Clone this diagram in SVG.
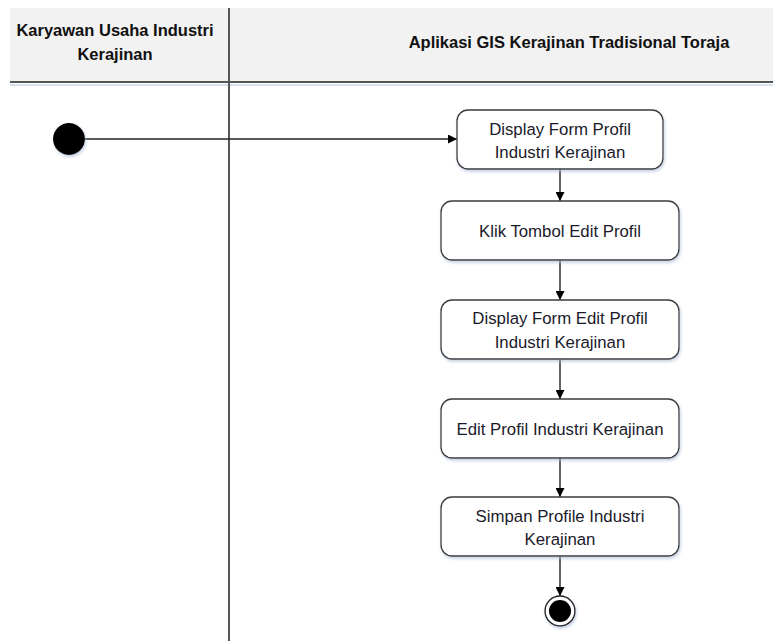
<svg xmlns="http://www.w3.org/2000/svg" width="773" height="641" viewBox="0 0 773 641">
<style>
.hdr{font-family:"Liberation Sans",Arial,sans-serif;font-weight:bold;font-size:16.5px;fill:#111;text-anchor:middle}
.lbl{font-family:"Liberation Sans",Arial,sans-serif;font-size:16.8px;fill:#1a1a2a;text-anchor:middle}
.act{fill:#fff;stroke:#3a3a3a;stroke-width:1.3;filter:url(#sh)}
.edge{stroke:#222;stroke-width:1.4;fill:none;marker-end:url(#arr)}
</style>
<defs>
<marker id="arr" viewBox="0 0 10 10" refX="10" refY="5" markerWidth="9" markerHeight="9" markerUnits="userSpaceOnUse" orient="auto">
<path d="M0,0 L10,5 L0,10 z" fill="#000"/>
</marker>
<filter id="sh" x="-10%" y="-10%" width="130%" height="140%">
<feDropShadow dx="1" dy="2" stdDeviation="1.5" flood-color="#9fb4d0" flood-opacity="0.6"/>
</filter>
</defs>
<rect width="773" height="641" fill="#fff"/>
<g id="header">
<rect x="10" y="8" width="763" height="74" fill="#f2f2f2"/>
<line x1="10" y1="82" x2="773" y2="82" stroke="#555" stroke-width="2"/>
<line x1="10" y1="85" x2="773" y2="85" stroke="#d8e2ee" stroke-width="2"/>
<line x1="229" y1="8" x2="229" y2="641" stroke="#555" stroke-width="2"/>
<text class="hdr" x="115" y="36">Karyawan Usaha Industri</text>
<text class="hdr" x="115" y="60">Kerajinan</text>
<text class="hdr" x="569" y="48">Aplikasi GIS Kerajinan Tradisional Toraja</text>
</g>
<g id="connectors">
<line class="edge" x1="85" y1="139" x2="457" y2="139"/>
<line class="edge" x1="560" y1="169" x2="560" y2="201"/>
<line class="edge" x1="560" y1="260" x2="560" y2="300"/>
<line class="edge" x1="560" y1="359" x2="560" y2="399"/>
<line class="edge" x1="560" y1="458" x2="560" y2="497"/>
<line class="edge" x1="560" y1="556" x2="560" y2="596"/>
</g>
<g id="start">
<circle cx="69" cy="139" r="16" fill="#000" filter="url(#sh)"/>
</g>
<g id="n1">
<rect class="act" x="457" y="110" width="206" height="59" rx="11"/>
<text class="lbl" x="560" y="135">Display Form Profil</text>
<text class="lbl" x="560" y="158">Industri Kerajinan</text>
</g>
<g id="n2">
<rect class="act" x="441" y="201" width="238" height="59" rx="11"/>
<text class="lbl" x="560" y="237">Klik Tombol Edit Profil</text>
</g>
<g id="n3">
<rect class="act" x="441" y="300" width="238" height="59" rx="11"/>
<text class="lbl" x="560" y="324">Display Form Edit Profil</text>
<text class="lbl" x="560" y="348">Industri Kerajinan</text>
</g>
<g id="n4">
<rect class="act" x="441" y="399" width="238" height="59" rx="11"/>
<text class="lbl" x="560" y="435">Edit Profil Industri Kerajinan</text>
</g>
<g id="n5">
<rect class="act" x="441" y="497" width="238" height="59" rx="11"/>
<text class="lbl" x="560" y="522">Simpan Profile Industri</text>
<text class="lbl" x="560" y="545">Kerajinan</text>
</g>
<g id="end">
<circle cx="560" cy="611" r="15" fill="#fff" stroke="#222" stroke-width="1.4" filter="url(#sh)"/>
<circle cx="560" cy="611" r="11" fill="#000"/>
</g>
</svg>
